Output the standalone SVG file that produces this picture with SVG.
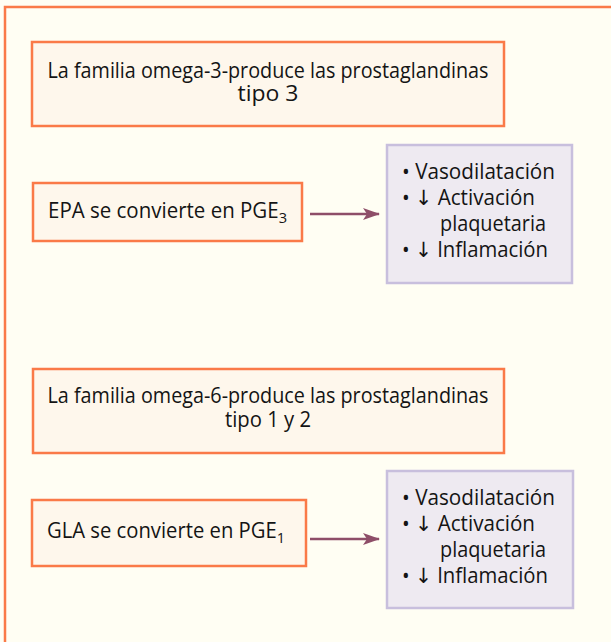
<svg xmlns="http://www.w3.org/2000/svg" width="611" height="642" viewBox="0 0 611 642">
<defs>
<style>
.bg{fill:#FFFEF3}
.frame{fill:none;stroke:#FA7A48;stroke-width:2.5}
.obox{fill:#FEF7EC;stroke:#FA7A48;stroke-width:2.5}
.pbox{fill:#EEEAF1;stroke:#C8BFDD;stroke-width:2.5}
.t{font-family:"Open Sans","Noto Sans","DejaVu Sans",sans-serif;font-size:21px;fill:#141414}
.tc{text-anchor:middle}
.conn{stroke:#8E4E68;stroke-width:2.5;fill:none}
</style>
<marker id="ah" viewBox="0 0 17 12" refX="16" refY="6" markerWidth="6.8" markerHeight="4.8" markerUnits="strokeWidth" orient="auto">
<path d="M0,0 L17,6 L0,12 L4,6 Z" fill="#8E4E68"/>
</marker>
</defs>
<rect class="bg" x="0" y="0" width="611" height="642"/>
<path class="frame" d="M5,642 V7 H611"/>
<g id="n1">
<rect class="obox" x="32" y="42" width="472" height="84"/>
<text class="t tc" x="268" y="78" textLength="441" lengthAdjust="spacingAndGlyphs">La familia omega-3-produce las prostaglandinas</text>
<text class="t tc" x="268" y="101" textLength="61" lengthAdjust="spacingAndGlyphs">tipo 3</text>
</g>
<g id="n2">
<rect class="obox" x="33" y="183" width="269" height="58"/>
<text class="t" x="48" y="218" textLength="239" lengthAdjust="spacingAndGlyphs">EPA se convierte en PGE<tspan font-size="15" dy="5">3</tspan></text>
</g>
<g id="n3">
<rect class="pbox" x="387" y="145" width="185" height="138"/>
<text class="t" x="402" y="179" textLength="153" lengthAdjust="spacingAndGlyphs">• Vasodilatación</text>
<text class="t" x="402" y="205" textLength="133" lengthAdjust="spacingAndGlyphs">• ↓ Activación</text>
<text class="t" x="440" y="231" textLength="106" lengthAdjust="spacingAndGlyphs">plaquetaria</text>
<text class="t" x="402" y="257" textLength="146" lengthAdjust="spacingAndGlyphs">• ↓ Inflamación</text>
</g>
<g id="n4">
<rect class="obox" x="33" y="369" width="471" height="84"/>
<text class="t tc" x="268" y="403" textLength="441" lengthAdjust="spacingAndGlyphs">La familia omega-6-produce las prostaglandinas</text>
<text class="t tc" x="268" y="427" textLength="86" lengthAdjust="spacingAndGlyphs">tipo 1 y 2</text>
</g>
<g id="n5">
<rect class="obox" x="32" y="500" width="274" height="66"/>
<text class="t" x="47" y="538" textLength="238" lengthAdjust="spacingAndGlyphs">GLA se convierte en PGE<tspan font-size="15" dy="5">1</tspan></text>
</g>
<g id="n6">
<rect class="pbox" x="387" y="471" width="186" height="137"/>
<text class="t" x="402" y="505" textLength="153" lengthAdjust="spacingAndGlyphs">• Vasodilatación</text>
<text class="t" x="402" y="531" textLength="133" lengthAdjust="spacingAndGlyphs">• ↓ Activación</text>
<text class="t" x="440" y="557" textLength="106" lengthAdjust="spacingAndGlyphs">plaquetaria</text>
<text class="t" x="402" y="583" textLength="146" lengthAdjust="spacingAndGlyphs">• ↓ Inflamación</text>
</g>
<g id="connectors">
<line class="conn" x1="310" y1="214" x2="379" y2="214" marker-end="url(#ah)"/>
<line class="conn" x1="310" y1="539" x2="379" y2="539" marker-end="url(#ah)"/>
</g>
</svg>
